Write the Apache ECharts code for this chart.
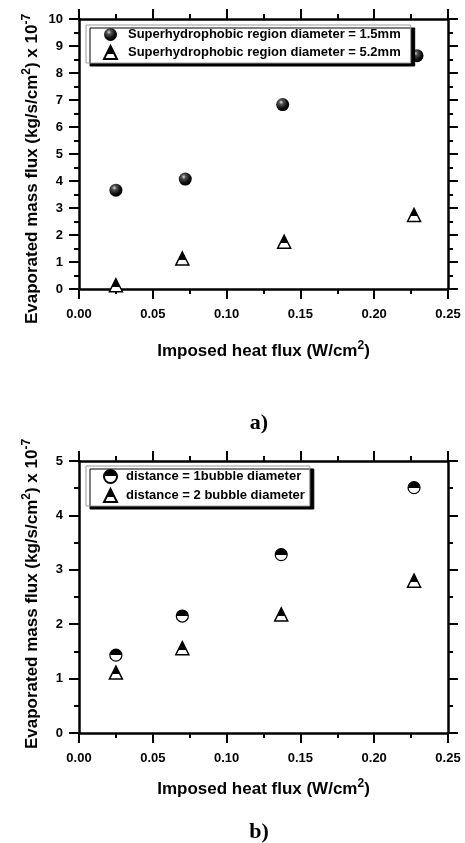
<!DOCTYPE html>
<html>
<head>
<meta charset="utf-8">
<script src="https://cdn.jsdelivr.net/npm/echarts@6/dist/echarts.min.js"></script>
<style>
html,body{margin:0;padding:0;background:#fff;}
#chart{width:465px;height:843px;}
</style>
</head>
<body>
<div id="chart"></div>
<script>
// ---- Data ----
const xTicks = [0, 0.05, 0.10, 0.15, 0.20, 0.25];
const namesA = ['Superhydrophobic region diameter = 1.5mm', 'Superhydrophobic region diameter = 5.2mm'];
const namesB = ['distance = 1bubble diameter', 'distance = 2 bubble diameter'];
const xA1 = [0.025, 0.072, 0.138, 0.229];
const yA1 = [3.66, 4.07, 6.83, 8.64];
const xA2 = [0.025, 0.070, 0.139, 0.227];
const yA2 = [0.14, 1.13, 1.75, 2.74];
const xB1 = [0.025, 0.070, 0.137, 0.227];
const yB1 = [1.43, 2.15, 3.28, 4.51];
const xB2 = [0.025, 0.070, 0.137, 0.227];
const yB2 = [1.11, 1.56, 2.18, 2.80];
const panelLabels = ['a)', 'b)'];
const yTitle = '{t|Evaporated mass flux (kg/s/cm}{s|2}{t|) x 10}{s|-7}';
const xTitle = '{t|Imposed heat flux (W/cm}{s|2}{t|)}';

const FONT = 'Liberation Sans, Arial, sans-serif';
const zip = (a, b) => a.map((v, i) => [v, b[i]]);

const richT = {
  t: {fontSize: 17, fontWeight: 'bold', fontFamily: FONT, color: '#000', verticalAlign: 'bottom'},
  s: {fontSize: 12, fontWeight: 'bold', fontFamily: FONT, color: '#000', verticalAlign: 'bottom', padding: [0, 0, 8, 0]}
};

const sphere = {type: 'radial', x: 0.38, y: 0.32, r: 0.65,
  colorStops: [{offset: 0, color: '#e6e6e6'}, {offset: 0.25, color: '#555'}, {offset: 0.7, color: '#111'}, {offset: 1, color: '#000'}]};
const halfTri = {type: 'linear', x: 0, y: 0, x2: 0, y2: 1,
  colorStops: [{offset: 0, color: '#000'}, {offset: 0.6, color: '#000'}, {offset: 0.6, color: '#fff'}, {offset: 1, color: '#fff'}]};
const halfCirc = {type: 'linear', x: 0, y: 0, x2: 0, y2: 1,
  colorStops: [{offset: 0, color: '#000'}, {offset: 0.5, color: '#000'}, {offset: 0.5, color: '#fff'}, {offset: 1, color: '#fff'}]};

function xAx(grid, pos, gap) {
  return {
    gridIndex: grid, type: 'value', position: pos, min: 0, max: 0.25, interval: 0.05,
    axisLine: {show: true, onZero: false, lineStyle: {color: '#000', width: 2.5}},
    axisTick: {show: true, inside: false, length: 10, lineStyle: {color: '#000', width: 2}},
    minorTick: {show: true, splitNumber: 2, length: 5, lineStyle: {color: '#000', width: 2}},
    splitLine: {show: false}, minorSplitLine: {show: false},
    axisLabel: pos === 'bottom' ? {show: true, margin: 19, fontSize: 13, fontWeight: 'bold', fontFamily: FONT, color: '#000',
      formatter: v => v.toFixed(2)} : {show: false},
    name: pos === 'bottom' ? xTitle : '',
    nameLocation: 'middle', nameGap: gap,
    nameTextStyle: {rich: richT}
  };
}
function yAx(grid, pos, max) {
  return {
    gridIndex: grid, type: 'value', position: pos, min: 0, max: max, interval: 1,
    axisLine: {show: true, onZero: false, lineStyle: {color: '#000', width: 2.5}},
    axisTick: {show: true, inside: false, length: 10, lineStyle: {color: '#000', width: 2}},
    minorTick: {show: true, splitNumber: 2, length: 5, lineStyle: {color: '#000', width: 2}},
    splitLine: {show: false}, minorSplitLine: {show: false},
    axisLabel: pos === 'left' ? {show: true, margin: 16, fontSize: 13, fontWeight: 'bold', fontFamily: FONT, color: '#000'} : {show: false}
  };
}
function legendBox(names, left, top, textPad, pad) {
  return {
    data: names, orient: 'vertical', left: left, top: top,
    itemWidth: 13, itemHeight: 13, itemGap: 4, padding: pad,
    backgroundColor: '#fff', borderColor: '#999', borderWidth: 1,
    shadowColor: '#000', shadowBlur: 0, shadowOffsetX: 4, shadowOffsetY: 3,
    selectedMode: false,
    textStyle: {fontSize: 13, fontWeight: 'bold', fontFamily: FONT, color: '#000', padding: [0, 0, 0, textPad]}
  };
}

const option = {
  animation: false,
  backgroundColor: '#fff',
  grid: [
    {left: 79, top: 19, width: 369, height: 270},
    {left: 79, top: 461, width: 369, height: 272}
  ],
  xAxis: [xAx(0, 'bottom', 51), xAx(0, 'top', 0), xAx(1, 'bottom', 45), xAx(1, 'top', 0)],
  yAxis: [yAx(0, 'left', 10), yAx(0, 'right', 10), yAx(1, 'left', 5), yAx(1, 'right', 5)],
  legend: [
    legendBox(namesA, 86, 25, 6, [3, 10, 3, 17]),
    legendBox(namesB, 86, 466, 4, [3, 5, 3, 17])
  ],
  series: [
    {name: namesA[0], type: 'scatter', xAxisIndex: 0, yAxisIndex: 0, data: zip(xA1, yA1),
      symbol: 'circle', symbolSize: 13, itemStyle: {color: sphere, opacity: 1}, emphasis: {disabled: true}},
    {name: namesA[1], type: 'scatter', xAxisIndex: 0, yAxisIndex: 0, data: zip(xA2, yA2),
      symbol: 'triangle', symbolSize: 13, itemStyle: {color: halfTri, borderColor: '#000', borderWidth: 1.5, opacity: 1}, emphasis: {disabled: true}},
    {name: namesB[0], type: 'scatter', xAxisIndex: 2, yAxisIndex: 2, data: zip(xB1, yB1),
      symbol: 'circle', symbolSize: 12, itemStyle: {color: halfCirc, borderColor: '#000', borderWidth: 1.2, opacity: 1}, emphasis: {disabled: true}},
    {name: namesB[1], type: 'scatter', xAxisIndex: 2, yAxisIndex: 2, data: zip(xB2, yB2),
      symbol: 'triangle', symbolSize: 13, itemStyle: {color: halfTri, borderColor: '#000', borderWidth: 1.5, opacity: 1}, emphasis: {disabled: true}}
  ],
  graphic: [
    {type: 'text', x: 31, y: 169, rotation: Math.PI / 2,
      style: {text: yTitle, rich: richT, align: 'center', verticalAlign: 'middle', textAlign: 'center', textVerticalAlign: 'middle'}},
    {type: 'text', x: 31, y: 594, rotation: Math.PI / 2,
      style: {text: yTitle, rich: richT, align: 'center', verticalAlign: 'middle', textAlign: 'center', textVerticalAlign: 'middle'}},
    {type: 'text', x: 259, y: 423,
      style: {text: panelLabels[0], font: 'bold 22px "Liberation Serif", "Times New Roman", serif', fill: '#000',
        align: 'center', verticalAlign: 'middle', textAlign: 'center', textVerticalAlign: 'middle'}},
    {type: 'text', x: 259, y: 832,
      style: {text: panelLabels[1], font: 'bold 22px "Liberation Serif", "Times New Roman", serif', fill: '#000',
        align: 'center', verticalAlign: 'middle', textAlign: 'center', textVerticalAlign: 'middle'}}
  ]
};
const chart = echarts.init(document.getElementById('chart'), null, {renderer: 'canvas'});
chart.setOption(option);
</script>
</body>
</html>
